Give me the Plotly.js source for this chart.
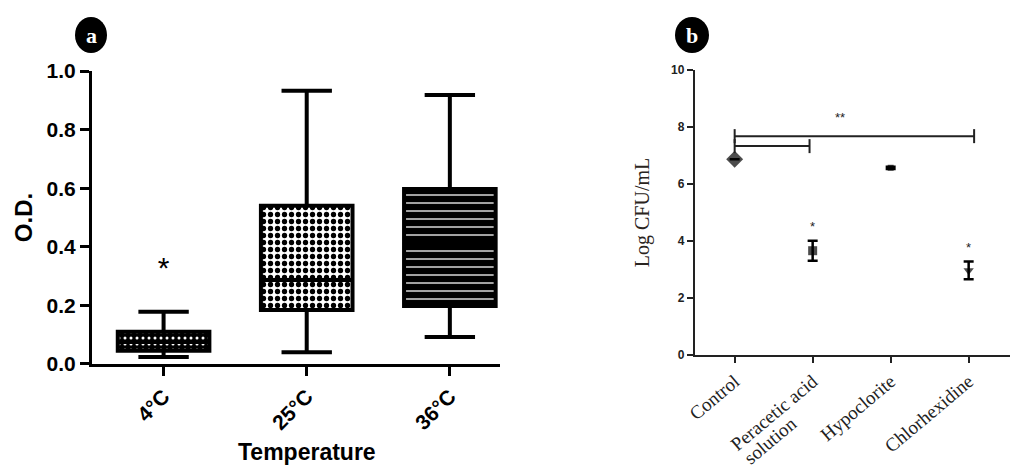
<!DOCTYPE html>
<html>
<head>
<meta charset="utf-8">
<script src="https://cdn.plot.ly/plotly-3.0.1.min.js"></script>
<style>html,body{margin:0;padding:0;background:#fff;}#chart{width:1010px;height:475px;}</style>
</head>
<body>
<div id="chart"></div>
<script>
// Panel a: O.D. by temperature (box plots)
const tempCats = ['4°C', '25°C', '36°C'];
const odLowerFence = [0.024, 0.040, 0.092];
const odQ1 = [0.045, 0.184, 0.198];
const odMedian = [0.075, 0.287, 0.410];
const odQ3 = [0.110, 0.540, 0.597];
const odUpperFence = [0.178, 0.933, 0.918];
const starTempCat = ['4°C'];
const starTempY = [0.32];

// Panel b: Log CFU/mL by disinfectant
const treatCats = ['Control', 'Peracetic acid', 'Hypoclorite', 'Chlorhexidine'];
const treatSecondLine = 'solution';
const treatPos = [0, 1, 2, 3];
const logCfuMean = [6.87, 3.66, 6.57, 2.97];
const logCfuErr = [0, 0.35, 0.04, 0.31];
const treatSymbols = ['diamond', 'square', 'square', 'triangle-down'];
const starTreatX = [1, 3];
const starTreatY = [4.47, 3.74];
const bracketLongX = [0, 3.07];
const bracketLongY = [7.68, 7.68];
const bracketShortX = [0, 0.96];
const bracketShortY = [7.33, 7.33];
const doubleStarX = [1.35];
const doubleStarY = [8.3];

const boxHeights = odQ3.map((v, i) => v - odQ1[i]);
const patterns = [
  {shape: '.', bgcolor: 'black', fgcolor: 'white', size: 6, solidity: 0.2},
  {shape: '.', bgcolor: 'white', fgcolor: 'black', size: 7, solidity: 0.45},
  {shape: '-', bgcolor: 'black', fgcolor: 'white', size: 8, solidity: 0.16}
];

const traces = [];
tempCats.forEach((c, i) => {
  traces.push({
    type: 'bar', x: [c], y: [boxHeights[i]], base: [odQ1[i]], width: 0.64,
    marker: {color: patterns[i].bgcolor, line: {width: 0}, pattern: patterns[i]},
    xaxis: 'x', yaxis: 'y', showlegend: false, hoverinfo: 'skip'
  });
});
traces.push({
  type: 'box', x: tempCats, q1: odQ1, median: odMedian, q3: odQ3,
  lowerfence: odLowerFence, upperfence: odUpperFence,
  width: 0.64, whiskerwidth: 0.55, fillcolor: 'rgba(0,0,0,0)',
  line: {color: 'black', width: 4}, xaxis: 'x', yaxis: 'y', showlegend: false
});
traces.push({
  type: 'scatter', mode: 'text', x: starTempCat, y: starTempY, text: ['*'],
  textfont: {family: 'Liberation Sans', size: 30, color: 'black'},
  xaxis: 'x', yaxis: 'y', showlegend: false
});

traces.push({
  type: 'scatter', mode: 'markers', x: treatPos, y: logCfuMean,
  marker: {symbol: treatSymbols, size: [13, 9, 6, 9], color: 'black', line: {width: 0}},
  error_y: {type: 'data', array: logCfuErr, visible: true, color: 'black', thickness: 2.5, width: 5},
  xaxis: 'x2', yaxis: 'y2', showlegend: false
});
[[bracketLongX, bracketLongY], [bracketShortX, bracketShortY]].forEach(b => {
  traces.push({
    type: 'scatter', mode: 'lines+markers', x: b[0], y: b[1],
    line: {color: '#222', width: 2},
    marker: {symbol: 'line-ns-open', size: 10, line: {color: '#222', width: 2}},
    xaxis: 'x2', yaxis: 'y2', showlegend: false
  });
});
traces.push({
  type: 'scatter', mode: 'text', x: starTreatX, y: starTreatY, text: ['*', '*'],
  textfont: {family: 'Liberation Sans', size: 13, color: '#222'},
  xaxis: 'x2', yaxis: 'y2', showlegend: false
});
traces.push({
  type: 'scatter', mode: 'text', x: doubleStarX, y: doubleStarY, text: ['**'],
  textfont: {family: 'Liberation Sans', size: 13, color: '#222'},
  xaxis: 'x2', yaxis: 'y2', showlegend: false
});

const boldFont = {family: 'Liberation Sans, Arial', size: 21, color: 'black', weight: 'bold'};
const serifTick = {family: 'Liberation Serif, Times New Roman', size: 19, color: '#222'};

const layout = {
  width: 1010, height: 475,
  margin: {l: 0, r: 0, t: 0, b: 0},
  paper_bgcolor: 'white', plot_bgcolor: 'white',
  showlegend: false,
  xaxis: {
    domain: [0.0911, 0.495], range: [-0.5, 2.35], type: 'category',
    showline: true, linecolor: 'black', linewidth: 3, showgrid: false, zeroline: false,
    ticks: 'outside', ticklen: 9, tickwidth: 3, tickcolor: 'black',
    tickangle: -45, tickfont: boldFont,
    automargin: false, fixedrange: true
  },
  yaxis: {
    domain: [0.2337, 0.8505], range: [0, 1.0],
    showline: true, linecolor: 'black', linewidth: 3, showgrid: false, zeroline: false,
    ticks: 'outside', ticklen: 9, tickwidth: 3, tickcolor: 'black',
    tickvals: [0, 0.2, 0.4, 0.6, 0.8, 1.0], tickformat: '.1f', tickfont: boldFont,
    title: {text: '<b>O.D.</b>', font: {family: 'Liberation Sans, Arial', size: 24, color: 'black'}, standoff: 8},
    automargin: false, fixedrange: true
  },
  xaxis2: {
    domain: [0.688, 1.0], range: [-0.51, 3.53],
    showline: true, linecolor: '#222', linewidth: 2, showgrid: false, zeroline: false,
    ticks: 'outside', ticklen: 6, tickwidth: 2, tickcolor: '#222',
    tickvals: treatPos, ticktext: treatCats, tickangle: -40,
    tickfont: serifTick,
    anchor: 'y2', automargin: false, fixedrange: true
  },
  yaxis2: {
    domain: [0.2526, 0.8526], range: [0, 10],
    showline: true, linecolor: '#222', linewidth: 2, showgrid: false, zeroline: false,
    ticks: 'outside', ticklen: 6, tickwidth: 2, tickcolor: '#222',
    tickvals: [0, 2, 4, 6, 8, 10],
    tickfont: {family: 'Liberation Sans, Arial', size: 12, color: '#222', weight: 'bold'},
    title: {text: 'Log CFU/mL', font: {family: 'Liberation Serif, Times New Roman', size: 20, color: '#2a2420'}, standoff: 16},
    anchor: 'x2', automargin: false, fixedrange: true
  },
  shapes: [
    {type: 'circle', layer: 'below', xref: 'paper', yref: 'paper', x0: 75/1010, x1: 107/1010, y0: 1 - 53/475, y1: 1 - 17/475, fillcolor: 'black', line: {width: 0}},
    {type: 'circle', layer: 'below', xref: 'paper', yref: 'paper', x0: 675/1010, x1: 709/1010, y0: 1 - 53/475, y1: 1 - 17/475, fillcolor: 'black', line: {width: 0}}
  ],
  annotations: [
    {xref: 'x', yref: 'paper', x: '25°C', y: 1 - 452/475, yanchor: 'middle', text: '<b>Temperature</b>', showarrow: false, font: {family: 'Liberation Sans, Arial', size: 23, color: 'black'}},
    {xref: 'paper', yref: 'paper', x: 770/1010, y: 1 - 440/475, xanchor: 'center', yanchor: 'middle', textangle: -40, text: treatSecondLine, showarrow: false, font: serifTick},
    {xref: 'paper', yref: 'paper', x: 91/1010, y: 1 - 35/475, xanchor: 'center', yanchor: 'middle', text: '<b>a</b>', showarrow: false, font: {family: 'Liberation Serif', size: 22, color: 'white'}},
    {xref: 'paper', yref: 'paper', x: 692/1010, y: 1 - 35/475, xanchor: 'center', yanchor: 'middle', text: '<b>b</b>', showarrow: false, font: {family: 'Liberation Serif', size: 22, color: 'white'}}
  ]
};

Plotly.newPlot('chart', traces, layout, {displayModeBar: false, staticPlot: true});
</script>
</body>
</html>
